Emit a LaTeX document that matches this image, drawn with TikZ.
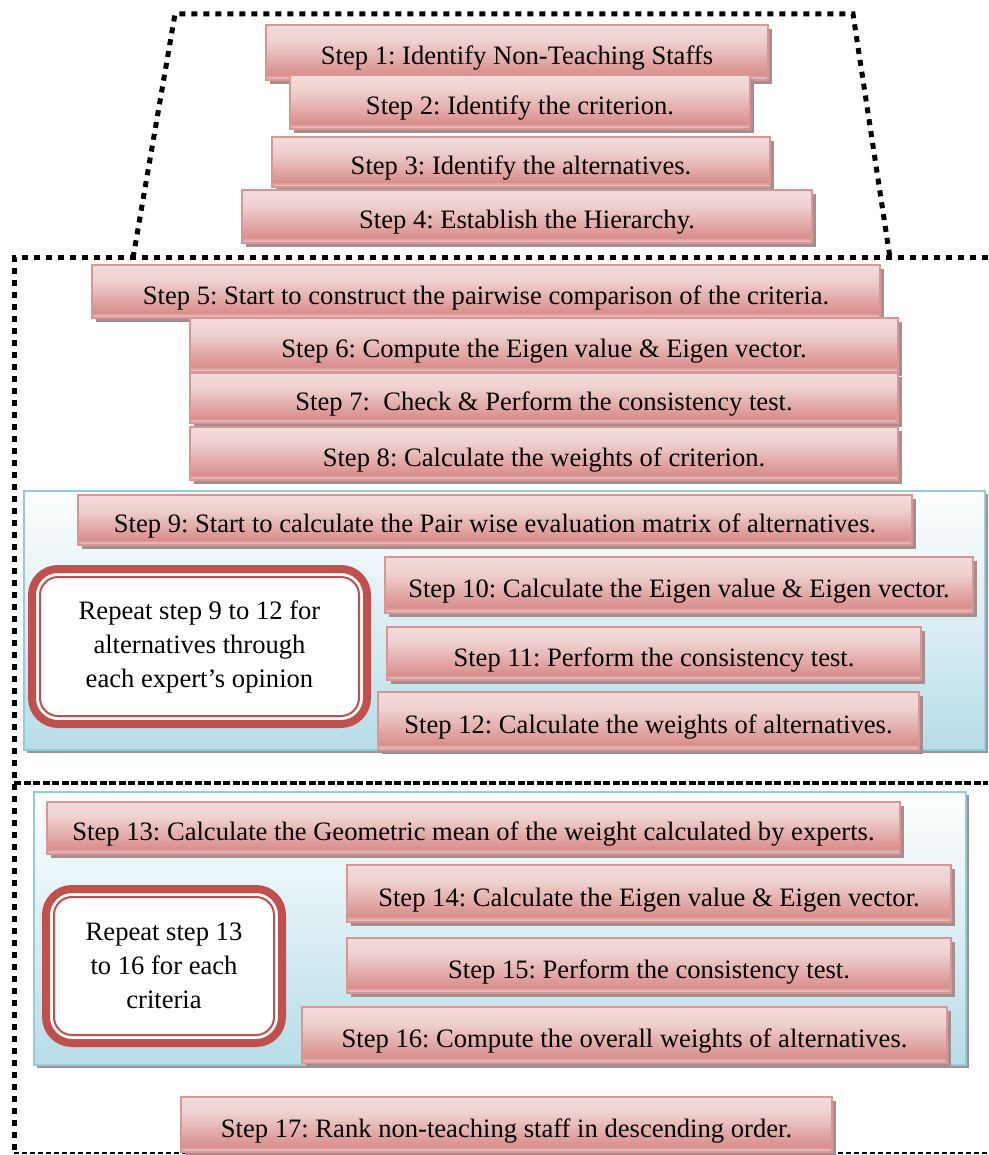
\documentclass[tikz,border=0pt]{standalone}
\usepackage{fontspec}
\setmainfont{Liberation Serif}
\usetikzlibrary{shadows,positioning}

\definecolor{stepedge}{HTML}{D99694}
\definecolor{steptop}{HTML}{F2DCDB}
\definecolor{stepdark}{HTML}{D98E8C}
\definecolor{stepfoot}{HTML}{EFD3D2}
\definecolor{shadowgray}{HTML}{A38F8F}
\definecolor{paneledge}{HTML}{93CDDD}
\definecolor{panelblue}{HTML}{B7DDE8}
\definecolor{repeatred}{HTML}{C0504D}
\pgfdeclareverticalshading{stepshade}{100bp}{color(0bp)=(stepfoot); color(25bp)=(stepfoot); color(30bp)=(stepdark); color(60bp)=(steptop!85!stepdark); color(75bp)=(steptop); color(100bp)=(steptop)}

\tikzset{
  stepbox/.style={draw=stepedge, line width=1.5pt, shade, shading=stepshade, inner sep=0pt,
    text height=25pt, text depth=0pt,
    drop shadow={shadow xshift=4pt, shadow yshift=-4pt, fill=shadowgray, opacity=1}},
  panel/.style={draw=paneledge, line width=2.5pt, top color=white, bottom color=panelblue, inner sep=0pt,
    drop shadow={shadow xshift=3pt, shadow yshift=-3pt, fill=shadowgray, opacity=1}},
  repeatbox/.style={draw=repeatred, line width=8pt, fill=white, rounded corners=26pt, align=center, inner sep=0pt},
  repeatinner/.style={draw=repeatred, line width=2pt, rounded corners=18pt},
  dotline/.style={line width=5pt, dash pattern=on 6pt off 6pt},
  dashline/.style={line width=4pt, dash pattern=on 7pt off 2.5pt},
  thindash/.style={line width=2pt, dash pattern=on 5pt off 3pt}
}

\begin{document}
\begin{tikzpicture}[x=1pt, y=-1pt, font=\fontsize{26.6pt}{34pt}\selectfont\frenchspacing]
    \useasboundingbox (0,0) rectangle (988,1155);

    % dotted outlines
    \draw[dotline] (133,258) -- (175,14) -- (853,14) -- (890,258);
    \draw[dotline] (988,258) -- (14,258) -- (14,1155);
    \draw[dashline] (14,783) -- (988,783);
    \draw[thindash] (14,1153) -- (988,1153);

    % blue panels
    \node[panel, minimum width=961pt, minimum height=259pt] (altpanel) at (504.5,620.5) {};
    \node[panel, minimum width=932pt, minimum height=273pt] (critpanel) at (500,928.5) {};

    % steps 1 to 4
    \node[stepbox, minimum width=502pt, minimum height=55pt] (s1) at (517,52.5) {Step 1: Identify Non-Teaching Staffs};
    \node[stepbox, minimum width=460pt, minimum height=54pt] (s2) at (520,102) {Step 2: Identify the criterion.};
    \node[stepbox, minimum width=498pt, minimum height=50pt] (s3) at (521,162) {Step 3: Identify the alternatives.};
    \node[stepbox, minimum width=570pt, minimum height=53pt] (s4) at (527,216.5) {Step 4: Establish the Hierarchy.};

    % steps 5 to 8
    \node[stepbox, minimum width=788pt, minimum height=53pt] (s5) at (486,291.5) {Step 5: Start to construct the pairwise comparison of the criteria.};
    \node[stepbox, minimum width=708pt, minimum height=54pt] (s6) at (544,345) {Step 6: Compute the Eigen value \& Eigen vector.};
    \node[stepbox, minimum width=708pt, minimum height=50pt] (s7) at (544,398) {Step 7:\ \ Check \& Perform the consistency test.};
    \node[stepbox, minimum width=708pt, minimum height=53pt] (s8) at (544,453.5) {Step 8: Calculate the weights of criterion.};

    % steps 9 to 12
    \node[stepbox, minimum width=834pt, minimum height=50pt] (s9) at (495,520) {Step 9: Start to calculate the Pair wise evaluation matrix of alternatives.};
    \node[stepbox, minimum width=588pt, minimum height=56pt] (s10) at (679,585) {Step 10: Calculate the Eigen value \& Eigen vector.};
    \node[stepbox, minimum width=534pt, minimum height=53pt] (s11) at (654,653.5) {Step 11: Perform the consistency test.};
    \node[stepbox, minimum width=541pt, minimum height=58pt] (s12) at (648.5,721) {Step 12: Calculate the weights of alternatives.};
    \node[repeatbox, minimum width=335pt, minimum height=155pt] (r1) at (199.5,646.5) {Repeat step 9 to 12 for\\alternatives through\\each expert’s opinion};
    \draw[repeatinner] ([xshift=12pt,yshift=-12pt]r1.north west) rectangle ([xshift=-12pt,yshift=12pt]r1.south east);

    % steps 13 to 16
    \node[stepbox, minimum width=853pt, minimum height=52pt] (s13) at (473.5,828) {Step 13: Calculate the Geometric mean of the weight calculated by experts.};
    \node[stepbox, minimum width=604pt, minimum height=57pt] (s14) at (649,893.5) {Step 14: Calculate the Eigen value \& Eigen vector.};
    \node[stepbox, minimum width=604pt, minimum height=55pt] (s15) at (649,965.5) {Step 15: Perform the consistency test.};
    \node[stepbox, minimum width=645pt, minimum height=56pt] (s16) at (624.5,1035) {Step 16: Compute the overall weights of alternatives.};
    \node[repeatbox, minimum width=236pt, minimum height=154pt] (r2) at (164,966) {Repeat step 13\\to 16 for each\\criteria};
    \draw[repeatinner] ([xshift=12pt,yshift=-12pt]r2.north west) rectangle ([xshift=-12pt,yshift=12pt]r2.south east);

    % step 17
    \node[stepbox, minimum width=651pt, minimum height=55pt] (s17) at (506.5,1124.5) {Step 17: Rank non-teaching staff in descending order.};
\end{tikzpicture}
\end{document}
